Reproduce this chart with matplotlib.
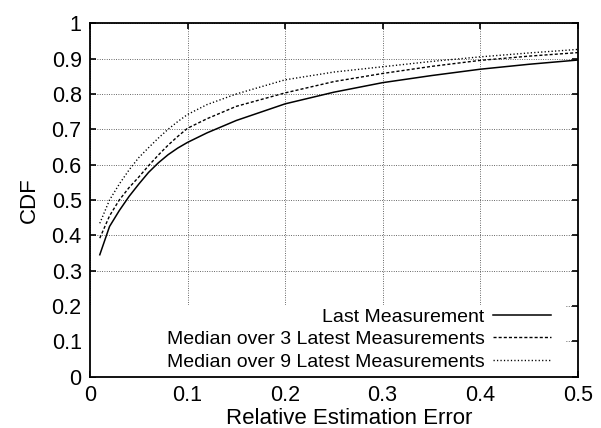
import matplotlib
matplotlib.use('Agg')
from matplotlib import pyplot as plt
from matplotlib.patches import Rectangle
import numpy as np

plt.rcParams['font.family'] = ['Liberation Sans', 'DejaVu Sans']

err = [0.01, 0.02, 0.03, 0.04, 0.05, 0.06, 0.07, 0.08, 0.09, 0.10,
       0.12, 0.15, 0.20, 0.25, 0.30, 0.35, 0.40, 0.45, 0.50]
cdf_last = [0.345, 0.425, 0.470, 0.510, 0.545, 0.578, 0.605, 0.628, 0.647, 0.663,
            0.690, 0.725, 0.772, 0.805, 0.832, 0.852, 0.870, 0.884, 0.896]
cdf_med3 = [0.392, 0.455, 0.500, 0.535, 0.565, 0.597, 0.627, 0.655, 0.680, 0.703,
            0.730, 0.765, 0.803, 0.835, 0.858, 0.878, 0.895, 0.907, 0.917]
cdf_med9 = [0.434, 0.500, 0.545, 0.585, 0.620, 0.648, 0.675, 0.700, 0.722, 0.742,
            0.770, 0.800, 0.840, 0.862, 0.877, 0.892, 0.905, 0.916, 0.926]
labels = ['Last Measurement', 'Median over 3 Latest Measurements',
          'Median over 9 Latest Measurements']

fig = plt.figure(figsize=(6.01, 4.28), dpi=100)
ax = fig.add_axes([0.1498, 0.1199, 0.8114, 0.8257])

ax.plot(err, cdf_last, color='black', lw=1.1, label=labels[0], zorder=3)
ax.plot(err, cdf_med3, color='black', lw=1.0, linestyle=(0, (2.2, 1.5)), label=labels[1], zorder=3)
ax.plot(err, cdf_med9, color='black', lw=1.0, linestyle=(0, (0.9, 1.6)), label=labels[2], zorder=3)

ax.set_xlim(0, 0.5)
ax.set_ylim(0, 1)
ax.set_xticks(np.arange(0, 0.51, 0.1))
ax.set_xticklabels(['0', '0.1', '0.2', '0.3', '0.4', '0.5'])
ax.set_yticks(np.arange(0, 1.01, 0.1))
ax.set_yticklabels(['0', '0.1', '0.2', '0.3', '0.4', '0.5', '0.6', '0.7', '0.8', '0.9', '1'])
ax.tick_params(direction='in', length=4, width=1.2, top=True, right=True, labelsize=15.5, pad=6)
for s in ax.spines.values():
    s.set_linewidth(1.3)

ax.set_axisbelow(True)
ax.grid(True, color='#444444', linestyle=(0, (0.8, 1.6)), linewidth=0.7)
# blank area behind the key, like gnuplot does
ax.add_patch(Rectangle((0, 0), 0.487, 0.203, facecolor='white', edgecolor='none', zorder=1))

ax.set_xlabel('Relative Estimation Error', fontsize=16)
ax.set_ylabel('CDF', fontsize=16)
ax.xaxis.set_label_coords(0.532, -0.089)
ax.yaxis.set_label_coords(-0.1025, 0.5)

leg = ax.legend(loc='lower right', bbox_to_anchor=(0.945, 0.017), frameon=False,
                markerfirst=False, fontsize=14, handlelength=3.0, handletextpad=0.4,
                labelspacing=0.25, borderpad=0, borderaxespad=0)

fig.savefig('out.png', dpi=100)
